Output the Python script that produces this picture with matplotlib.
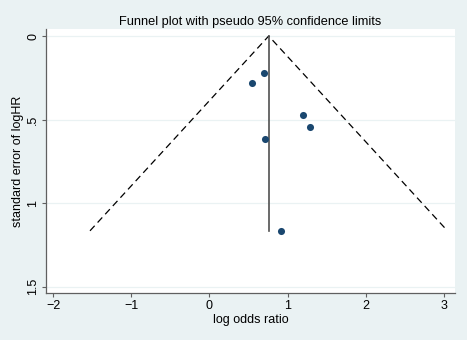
import numpy as np
import matplotlib
matplotlib.use("Agg")
import matplotlib.pyplot as plt

plt.rcParams['font.family'] = ['Liberation Sans', 'DejaVu Sans']

# study estimates
log_or = [0.694, 0.541, 1.193, 1.292, 0.716, 0.912]
se_loghr = [0.220, 0.280, 0.472, 0.546, 0.614, 1.166]
pooled = 0.758

xticks = [-2, -1, 0, 1, 2, 3]
yticks = [0, 0.5, 1, 1.5]
ytick_labels = ['0', '.5', '1', '1.5']

bg = '#EAF2F3'
navy = '#1A476F'

fig = plt.figure(figsize=(4.67, 3.40), dpi=100, facecolor=bg)
ax = fig.add_axes([46/467, 1 - 293.3/340, (455 - 46)/467, (293.3 - 29)/340])
ax.set_facecolor('white')

se_max = max(se_loghr)
ax.plot([pooled - 1.96*se_max, pooled, pooled + 1.96*se_max], [se_max, 0, se_max],
        color='black', lw=0.9, ls=(0, (5.5, 3.5)))
ax.plot([pooled, pooled], [0, se_max], color='#505050', lw=1.2)
ax.scatter(log_or, se_loghr, s=26, color=navy, zorder=3, linewidths=0)

ax.set_xlim(-2.09, 3.14)
ax.set_ylim(1.54, -0.042)
ax.set_xticks(xticks)
ax.set_yticks(yticks)
ax.set_yticklabels(ytick_labels, rotation=90, va='center')
for t in yticks:
    ax.axhline(t, color=bg, lw=0.9, zorder=0)

for s in ['top', 'right']:
    ax.spines[s].set_visible(False)
for s in ['left', 'bottom']:
    ax.spines[s].set_color('#606060')
    ax.spines[s].set_linewidth(0.9)
ax.tick_params(length=3, width=0.8, color='#606060', labelsize=9, pad=2)

ax.set_xlabel('log odds ratio', fontsize=9, labelpad=1)
ax.set_ylabel('standard error of logHR', fontsize=9, labelpad=2)
ax.set_title('Funnel plot with pseudo 95% confidence limits', fontsize=9.2, pad=3)

fig.savefig('out.png', dpi=100, facecolor=bg)
